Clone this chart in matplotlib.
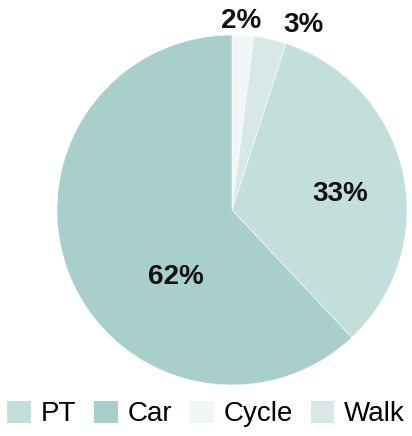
import matplotlib.pyplot as plt
from matplotlib.patches import Patch

plt.rcParams['font.family'] = ['Liberation Sans', 'DejaVu Sans']

# mode share, clockwise from 12 o'clock
modes = ['Cycle', 'Walk', 'PT', 'Car']
shares = [2, 3, 33, 62]
colors = {'PT': '#c3dfdb', 'Car': '#a8cfca', 'Cycle': '#f1f7f6', 'Walk': '#d6e9e6'}
legend_order = ['PT', 'Car', 'Cycle', 'Walk']

# label positions in pie units (radius = 1)
label_pos = {'Cycle': (0.05, 1.08), 'Walk': (0.41, 1.057), 'PT': (0.62, 0.09), 'Car': (-0.32, -0.38)}

fig = plt.figure(figsize=(4.12, 4.36), dpi=100)
ax = fig.add_axes([57 / 412, 51 / 436, 350 / 412, 350 / 436])
ax.pie(shares, colors=[colors[m] for m in modes], startangle=90, counterclock=False,
       wedgeprops=dict(edgecolor='white', linewidth=0.4))
ax.set_xlim(-1, 1)
ax.set_ylim(-1, 1)

for m, s in zip(modes, shares):
    x, y = label_pos[m]
    ax.text(x, y, f'{s}%', ha='center', va='center', fontsize=20, fontweight='bold',
            color='#111111', clip_on=False)

handles = [Patch(facecolor=colors[m], edgecolor='none') for m in legend_order]
fig.legend(handles, legend_order, loc='center', bbox_to_anchor=(0.5, 22 / 436), ncol=4,
           frameon=False, fontsize=20, handlelength=0.85, handleheight=0.85,
           handletextpad=0.35, columnspacing=0.65, borderaxespad=0)

fig.savefig('out.png', dpi=100)
